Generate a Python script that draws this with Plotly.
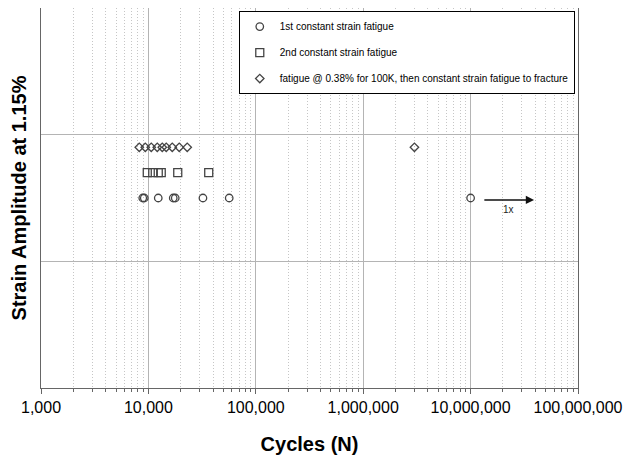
import math
import plotly.graph_objects as go

# ---- data ----
series_names = [
    "1st constant strain fatigue",
    "2nd constant strain fatigue",
    "fatigue @ 0.38% for 100K, then constant strain fatigue to fracture",
]
cycles_first = [8860, 9150, 12350, 17030, 17780, 32200, 56550, 10000000]
amp_first = [1.5] * len(cycles_first)

cycles_second = [9760, 10980, 12350, 13170, 18760, 36450]
amp_second = [1.7] * len(cycles_second)

cycles_third = [8220, 9350, 10630, 12090, 13460, 14660, 16670, 19370, 22990, 3000000]
amp_third = [1.9] * len(cycles_third)

x_tickvals = [1e3, 1e4, 1e5, 1e6, 1e7, 1e8]
x_ticktext = ["1,000", "10,000", "100,000", "1,000,000", "10,000,000", "100,000,000"]
minor_multipliers = [2, 3, 4, 5, 6, 7, 8, 9]

runout_start = 13.0e6
runout_end = 39.0e6
runout_amp = 1.485
runout_label = "1x"

symbols = ["circle-open", "square-open", "diamond-open"]
marker_sizes = [7.5, 8, 6.5]
xs = [cycles_first, cycles_second, cycles_third]
ys = [amp_first, amp_second, amp_third]

FONT = "Arial, Liberation Sans, sans-serif"
MARK = "#444444"

minor_vals = [m * v for v in x_tickvals[:-1] for m in minor_multipliers]

fig = go.Figure()
for i, (name, x, y, sym, sz) in enumerate(zip(series_names, xs, ys, symbols, marker_sizes)):
    fig.add_trace(go.Scatter(
        x=x, y=y, mode="markers", name=name, legendgroup=f"g{i}",
        marker=dict(symbol=sym, size=sz, color=MARK, line=dict(width=1.3, color=MARK)),
    ))

fig.add_annotation(
    x=math.log10(runout_end), y=runout_amp, ax=math.log10(runout_start), ay=runout_amp,
    xref="x", yref="y", axref="x", ayref="y", text="", showarrow=True,
    arrowhead=2, arrowsize=1.1, arrowwidth=1.5, arrowcolor="#111",
)
fig.add_annotation(
    x=math.log10((runout_start * runout_end) ** 0.5), y=runout_amp, yshift=-10,
    xref="x", yref="y", text=runout_label, showarrow=False,
    font=dict(size=10, color="#222", family=FONT),
)

# page body adds an 8px offset, so the figure is sized 8px smaller
fig.update_layout(
    width=623, height=454,
    margin=dict(l=33, r=53, t=0, b=74),
    paper_bgcolor="white", plot_bgcolor="white",
    font=dict(family=FONT, color="black"),
    showlegend=True,
    legend=dict(
        x=0.994, y=0.992, xanchor="right", yanchor="top",
        bgcolor="white", bordercolor="black", borderwidth=1,
        font=dict(size=10, family=FONT), tracegroupgap=7,
        itemwidth=30,
    ),
    xaxis=dict(
        type="log", range=[3, 8],
        tickmode="array", tickvals=x_tickvals, ticktext=x_ticktext,
        tickfont=dict(size=16, family=FONT),
        ticks="outside", ticklen=5, tickcolor="#666",
        showline=True, linecolor="#666", linewidth=1, mirror=True,
        showgrid=True, gridcolor="#b4b4b4", gridwidth=1,
        minor=dict(tickmode="array", tickvals=minor_vals,
                   ticks="outside", ticklen=3, tickcolor="#666",
                   showgrid=True, gridcolor="#c6c6c6", griddash="1px,2px", gridwidth=1),
        title=dict(text="<b>Cycles (N)</b>", font=dict(size=20, family=FONT), standoff=21),
        zeroline=False,
    ),
    yaxis=dict(
        range=[0, 3], tickvals=[1, 2], showticklabels=False,
        showline=True, linecolor="#666", linewidth=1, mirror=True,
        showgrid=True, gridcolor="#b4b4b4", gridwidth=1, zeroline=False,
        title=dict(text="<b>Strain Amplitude at 1.15%</b>", font=dict(size=20, family=FONT), standoff=8),
    ),
)

fig.write_html("out.html")
